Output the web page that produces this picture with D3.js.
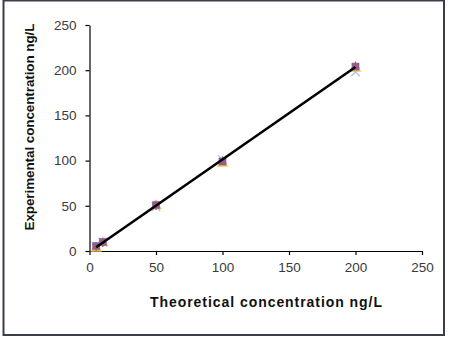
<!DOCTYPE html>
<html><head><meta charset="utf-8">
<script src="https://cdn.jsdelivr.net/npm/d3@7"></script>
<style>body{margin:0;background:#fff}svg{display:block}</style>
</head><body>
<svg id="c" width="453" height="346"></svg>
<script>
const concentrations = [5, 10, 50, 100, 200];
const seriesSquare = [5.5, 10, 51, 99, 204];
const seriesTriangle = [3, 9, 50, 97, 202];
const seriesCross = [5, 10, 49, 101, 198];
const seriesStar = [5, 9, 50, 100, 205];
const fitLine = [[5, 4.1], [200, 203.5]];
const xTicks = [0, 50, 100, 150, 200, 250];
const yTicks = [0, 50, 100, 150, 200, 250];

const svg = d3.select("#c");
svg.append("rect").attr("x",3.5).attr("y",0.5).attr("width",440.5).attr("height",334.5)
  .attr("fill","#fff").attr("stroke","#3a3e48").attr("stroke-width",2);

const x = d3.scaleLinear().domain([0,250]).range([89.5,422]);
const y = d3.scaleLinear().domain([0,250]).range([251,25]);

const font = "'Liberation Sans', Arial, sans-serif";
const xa = svg.append("g").attr("transform","translate(0,251)")
  .call(d3.axisBottom(x).tickValues(xTicks).tickSize(4).tickPadding(7).tickSizeOuter(0));
const ya = svg.append("g").attr("transform","translate(89.5,0)")
  .call(d3.axisLeft(y).tickValues(yTicks).tickSize(4).tickPadding(9).tickSizeOuter(0));
[xa, ya].forEach(a => {
  a.selectAll("path,line").attr("stroke","#000").attr("stroke-width",1.2);
  a.selectAll("text").attr("font-family",font).attr("font-size",13.5).attr("fill","#3a3a3a");
});

svg.append("text").attr("x",266).attr("y",307).attr("text-anchor","middle")
  .attr("font-family",font).attr("font-size",14).attr("font-weight","bold").attr("fill","#111")
  .attr("textLength",232).attr("lengthAdjust","spacing")
  .text("Theoretical  concentration  ng/L");
svg.append("text").attr("transform","translate(34,127) rotate(-90)").attr("text-anchor","middle")
  .attr("font-family",font).attr("font-size",13.5).attr("font-weight","bold").attr("fill","#111")
  .attr("textLength",207).attr("lengthAdjust","spacing")
  .text("Experimental  concentration  ng/L");

const g = svg.append("g");
const mk = (vals, shape, color, size) => {
  g.selectAll(null).data(concentrations.map((c,i)=>[c,vals[i]])).enter().append("path")
    .attr("transform", d => `translate(${x(d[0])},${y(d[1])})`)
    .attr("d", d3.symbol().type(shape).size(size))
    .attr("fill", shape===d3.symbolCross||shape===d3.symbolX||shape===d3.symbolAsterisk ? "none" : color)
    .attr("stroke", color).attr("stroke-width", shape===d3.symbolSquare||shape===d3.symbolTriangle ? 0.5 : 1.3);
};
mk(seriesCross, d3.symbolX, "#a9c4e0", 50);
mk(seriesTriangle, d3.symbolTriangle, "#f2c14e", 50);
mk(seriesSquare, d3.symbolSquare, "#8e5ba6", 50);
mk(seriesStar, d3.symbolAsterisk, "#9b5f7a", 50);

svg.append("path").datum(fitLine)
  .attr("d", d3.line().x(d=>x(d[0])).y(d=>y(d[1])))
  .attr("stroke","#000").attr("stroke-width",2.6).attr("fill","none");
</script>
</body></html>
